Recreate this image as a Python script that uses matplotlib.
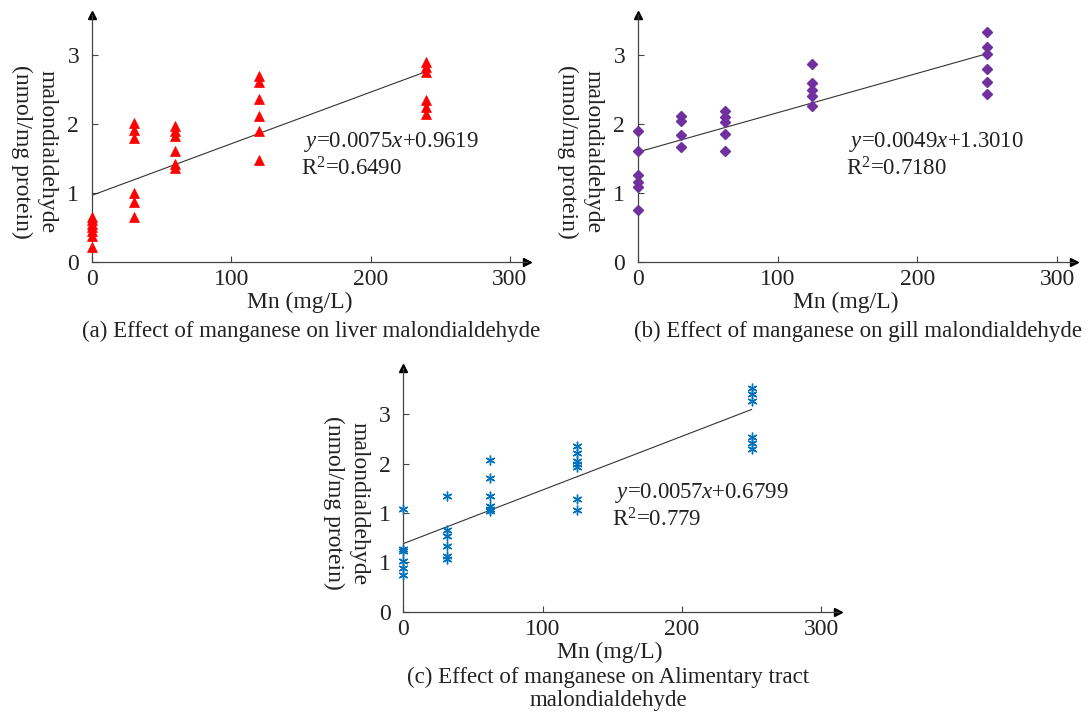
import matplotlib
matplotlib.use("Agg")
import matplotlib.pyplot as plt
import numpy as np

plt.rcParams['font.family'] = ['Liberation Serif', 'DejaVu Serif']
plt.rcParams['mathtext.fontset'] = 'custom'
plt.rcParams['mathtext.rm'] = 'Liberation Serif'
plt.rcParams['mathtext.it'] = 'Liberation Serif:italic'

# (a) liver
x_a = [0, 30, 60, 120, 240]
y_a = [
    [0.22, 0.38, 0.45, 0.50, 0.55, 0.60, 0.65],
    [2.01, 1.91, 1.79, 0.99, 0.87, 0.65],
    [1.97, 1.90, 1.82, 1.60, 1.42, 1.36],
    [2.69, 2.61, 2.36, 2.11, 1.89, 1.47],
    [2.90, 2.83, 2.75, 2.35, 2.25, 2.15],
]
fit_a = [0.9619, 2.76]

# (b) gill
x_b = [0, 31.25, 62.5, 125, 250]
y_b = [
    [1.90, 1.60, 1.26, 1.16, 1.08, 0.75],
    [2.11, 2.04, 1.84, 1.66],
    [2.19, 2.10, 2.03, 1.86, 1.61],
    [2.87, 2.59, 2.49, 2.41, 2.26],
    [3.34, 3.12, 3.02, 2.79, 2.61, 2.43],
]
fit_b = [1.59, 3.02]

# (c) alimentary tract
x_c = [0, 31.25, 62.5, 125, 250]
y_c = [
    [1.04, 0.64, 0.62, 0.51, 0.44, 0.37],
    [1.17, 0.83, 0.77, 0.67, 0.56, 0.53],
    [1.54, 1.36, 1.17, 1.07, 1.04, 1.02],
    [1.68, 1.61, 1.53, 1.50, 1.47, 1.14, 1.03],
    [2.27, 2.21, 2.14, 1.77, 1.71, 1.65],
]
fit_c = [0.69, 2.05]
yticks_c = [0, 0.5, 1.0, 1.5, 2.0]
yticklabels_c = ['0', '1', '1', '2', '3']

eq_a = ["$y$=0.0075$x$+0.9619", "R$^2$=0.6490"]
eq_b = ["$y$=0.0049$x$+1.3010", "R$^2$=0.7180"]
eq_c = ["$y$=0.0057$x$+0.6799", "R$^2$=0.779"]

captions = ["(a) Effect of manganese on liver malondialdehyde",
            "(b) Effect of manganese on gill malondialdehyde",
            "(c) Effect of manganese on Alimentary tract\nmalondialdehyde"]

fig = plt.figure(figsize=(10.88, 7.13), dpi=100)
W, H = 1088, 713

def make_ax(left, right, bottom, top):
    return fig.add_axes([left / W, 1 - bottom / H, (right - left) / W, (bottom - top) / H])

FS = 16
AXC = '#444444'
TXT = '#222222'

def draw(ax, xs, ys, fit, marker, color, ms, ymax, eq, eq_pos, yticks, yticklabels):
    for xv, col in zip(xs, ys):
        ax.plot([xv] * len(col), col, linestyle='none', marker=marker, color=color,
                markersize=ms, markeredgewidth=1.0 if marker != '^' else 0.5,
                clip_on=False, zorder=3)
    ax.plot([xs[0], xs[-1]], fit, color='#333333', linewidth=0.8)
    ax.set_xlim(0, 312)
    ax.set_ylim(0, ymax)
    ax.set_xticks([0, 100, 200, 300])
    ax.set_yticks(yticks)
    ax.set_yticklabels(yticklabels)
    for s in ['top', 'right']:
        ax.spines[s].set_visible(False)
    for s in ['left', 'bottom']:
        ax.spines[s].set_color(AXC)
        ax.spines[s].set_linewidth(0.9)
    ax.tick_params(direction='in', length=4, width=0.8, colors=AXC, labelcolor=TXT,
                   labelsize=FS + 1)
    ax.tick_params(axis='y', pad=9)
    ax.tick_params(axis='x', pad=5)
    ax.plot(1, 0, '>', color='black', markersize=6, transform=ax.transAxes, clip_on=False)
    ax.plot(0, 1, '^', color='black', markersize=6, transform=ax.transAxes, clip_on=False)
    ax.patch.set_alpha(0)
    ax.text(eq_pos[0], eq_pos[1], eq[0], fontsize=FS + 0.5, va='center', ha='left', color=TXT)
    ax.text(eq_pos[0] - 2, eq_pos[2], eq[1], fontsize=FS + 0.5, va='center', ha='left', color=TXT)
    ax.text(-0.132, 0.445, "malondialdehyde\n(nmol/mg protein)", rotation=-90, fontsize=FS + 1,
            ha='center', va='center', transform=ax.transAxes, linespacing=1.25, color=TXT)

ax_a = make_ax(91.7, 526.7, 261.7, 15)
draw(ax_a, x_a, y_a, fit_a, '^', '#FF0000', 7, 3.58, eq_a, (152, 1.74, 1.34),
     [0, 1, 2, 3], ['0', '1', '2', '3'])
ax_b = make_ax(637.7, 1074, 261.7, 15)
draw(ax_b, x_b, y_b, fit_b, 'D', '#7030A0', 5.5, 3.58, eq_b, (151, 1.74, 1.35),
     [0, 1, 2, 3], ['0', '1', '2', '3'])
ax_c = make_ax(403.3, 838, 611.7, 368)
draw(ax_c, x_c, y_c, fit_c, (6, 2, 0), '#0072BD', 7, 2.47, eq_c, (152, 1.20, 0.93),
     yticks_c, yticklabels_c)

# x labels and captions in figure pixels
def ftext(x, y, s, size=FS + 1, **kw):
    fig.text(x / W, 1 - y / H, s, fontsize=size, ha='center', va='center', color=TXT, **kw)

ftext(300, 302, "Mn (mg/L)")
ftext(846, 302, "Mn (mg/L)")
ftext(610, 652, "Mn (mg/L)")
ftext(311, 331, captions[0], size=FS + 0.5)
ftext(858, 331, captions[1], size=FS + 0.5)
ftext(608, 689, captions[2], size=FS + 0.5, linespacing=1.12)

fig.savefig("out.png", dpi=100)
